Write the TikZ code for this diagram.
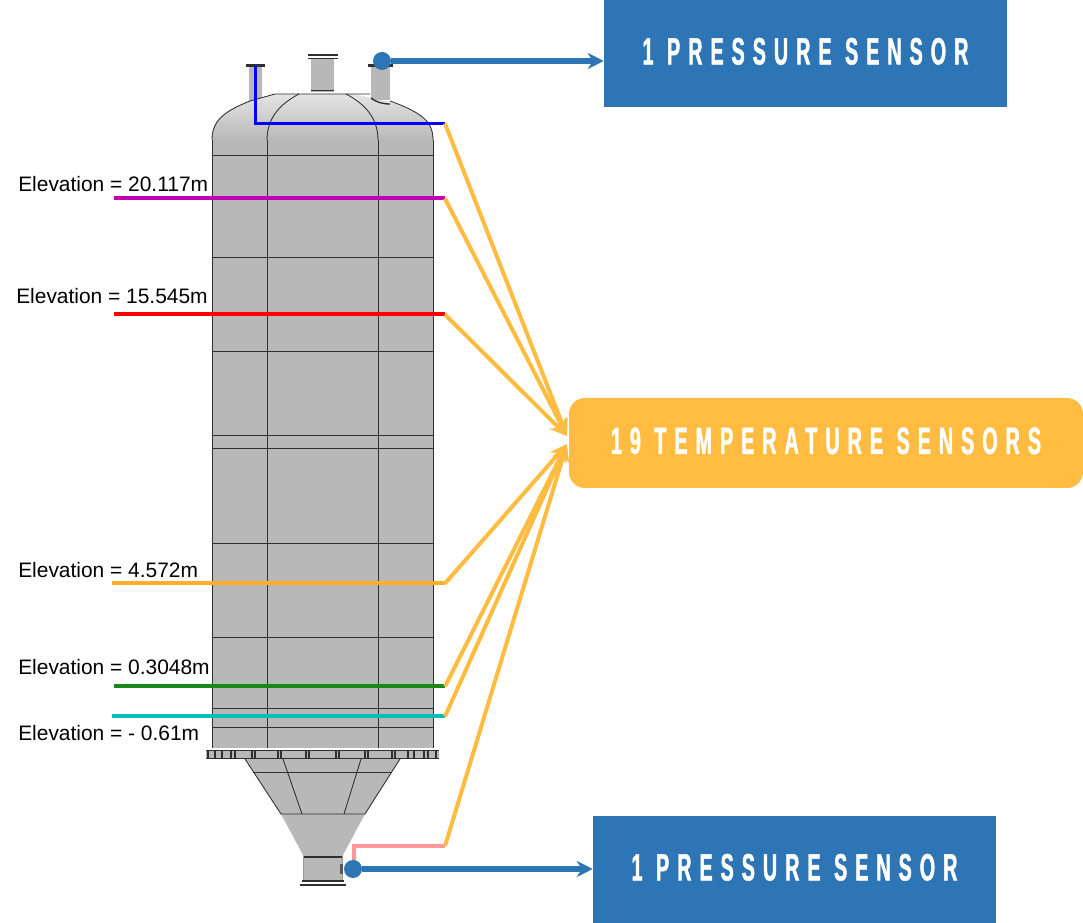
\documentclass[tikz,border=0pt]{standalone}
\usepackage{fontspec}
\setmainfont{Liberation Sans}
\newfontfamily\bannerfont[FakeStretch=0.52,LetterSpace=21,FakeBold=1.2]{Liberation Sans Bold}
\usetikzlibrary{arrows.meta,positioning}
\definecolor{steelblue}{HTML}{2E75B6}
\definecolor{amber}{HTML}{FFBC41}
\definecolor{vesselgrey}{HTML}{B8B8B8}
\definecolor{domegrey}{HTML}{E4E4E4}
\definecolor{edgegrey}{HTML}{2F2F2F}
\definecolor{tracepurple}{HTML}{C000B8}
\definecolor{tracegreen}{HTML}{178A17}
\definecolor{traceteal}{HTML}{08BDBA}
\definecolor{traceorange}{HTML}{FFAE2B}
\definecolor{tracepink}{HTML}{FF9797}

\begin{document}
\begin{tikzpicture}[
			x=0.75pt,y=-0.75pt,
			banner/.style={fill=steelblue,minimum width=302.25pt,minimum height=80.25pt,inner sep=0pt,text depth=3.5pt,align=center,text=white,font=\bannerfont\fontsize{28.5}{30}\selectfont},
			hub/.style={fill=amber,rounded corners=12pt,minimum width=385.5pt,minimum height=67.5pt,inner sep=0pt,text depth=3.5pt,align=center,text=white,font=\bannerfont\fontsize{28.5}{30}\selectfont},
			level/.style={line width=3pt},
			elev/.style={anchor=base west,inner sep=0pt,font=\fontsize{15.7}{17}\selectfont},
			feed/.style={amber,line width=3pt,-{Stealth[length=13pt,width=11pt,inset=4pt]}},
			press/.style={steelblue,line width=4pt,-{Stealth[length=12pt,width=12pt]}},
			tap/.style={circle,fill=steelblue,inner sep=0pt,minimum size=13.5pt},
			shell/.style={fill=vesselgrey,draw=none},
			seam/.style={edgegrey,line width=0.65pt}
			]
			\useasboundingbox (0,0) rectangle (1083,923);
			% nozzles on the top head
			\fill[vesselgrey] (249,66) rectangle (262,106);
			\fill[vesselgrey] (311,58) rectangle (334,92);
			\fill[vesselgrey] (371,66) rectangle (390,100);
			\draw[edgegrey,line width=1.8pt] (246,65.5) -- (265,65.5);
			\draw[edgegrey,line width=1.2pt] (307.5,55) -- (337.5,55);
			\draw[edgegrey,line width=1.2pt] (307.5,58.5) -- (337.5,58.5);
			\draw[seam] (311,90) -- (334,90);
			\draw[edgegrey,line width=1.8pt] (368,65.5) -- (393,65.5);
			% head and shell
			\shade[top color=domegrey,bottom color=vesselgrey] (212,140) .. controls (212,122) and (222,112) .. (250,101) -- (275,94) -- (354,94) -- (390,102) .. controls (423,113) and (433,122) .. (433,140) -- cycle;
			\draw[seam] (212,140) .. controls (212,122) and (222,112) .. (250,101) -- (275,94) -- (370,94);
			\draw[seam] (390,101) .. controls (423,113) and (433,122) .. (433,140);
			\fill[vesselgrey] (371,85) rectangle (390,100);
			\draw[edgegrey,line width=1pt] (371,98) .. controls (376,102) and (382,104) .. (390,104);
			\fill[shell] (212,140) rectangle (433,748);
			\draw[seam] (212,140) -- (212,748);
			\draw[seam] (433,140) -- (433,748);
			\draw[seam] (267,140) .. controls (267,118) and (280,104) .. (299,94);
			\draw[seam] (378,140) .. controls (378,118) and (365,104) .. (346,94);
			\draw[seam] (267,140) -- (267,748);
			\draw[seam] (378,140) -- (378,748);
			\foreach \yy in {155,257,351,435,448,543,637,708,727}
				\draw[seam] (212,\yy) -- (433,\yy);
			% skirt flange
			\fill[vesselgrey] (206,750) rectangle (439,758);
			\draw[seam] (206,750) -- (439,750);
			\draw[edgegrey,line width=1.2pt] (206,758.5) -- (439,758.5);
			\foreach \xx in {208,215,222,231,235,252,255,278,281,306,309,336,339,365,368,392,395,408,414,424,428,436}
				\draw[edgegrey,line width=1.1pt] (\xx,750) -- (\xx,758);
			% cone and outlet
			\filldraw[fill=vesselgrey,draw=none] (245,759) -- (400,759) -- (365,814) -- (343,855) -- (343,880) -- (303,880) -- (303,855) -- (281,814) -- cycle;
			\draw[seam] (245,759) -- (281,814) -- (365,814) -- (400,759);
			\draw[seam] (253,772) -- (392,772);
			\draw[seam] (283,759) -- (302,814);
			\draw[seam] (361,759) -- (344,814);
			\draw[edgegrey,line width=1.5pt] (303,856.5) -- (342,856.5);
			\draw[edgegrey!50,line width=0.6pt] (303,856) -- (303,880);
			\draw[edgegrey!50,line width=0.6pt] (342,856) -- (342,880);
			\draw[edgegrey,line width=1.2pt] (302,881) -- (344,881);
			\draw[edgegrey,line width=1.2pt] (300,885) -- (346,885);
			\fill[edgegrey!80] (340,864) rectangle (343,874);

			% sensor levels
			\coordinate (topin) at (255,66);
			\coordinate (topbend) at (255,123.5);
			\coordinate (topout) at (445,123.5);
			\coordinate (botin) at (354,868);
			\coordinate (botbend) at (354,846);
			\coordinate (botout) at (445,846);
			\coordinate (purplein) at (114,198.5);
			\coordinate (purpleout) at (445,198.5);
			\coordinate (redin) at (114,314.5);
			\coordinate (redout) at (445,314.5);
			\coordinate (orangein) at (112,583.5);
			\coordinate (orangeout) at (445,583.5);
			\coordinate (greenin) at (114,686.5);
			\coordinate (greenout) at (445,686.5);
			\coordinate (tealin) at (112,716.5);
			\coordinate (tealout) at (445,716.5);
			\draw[blue,line width=2.25pt] (topin) -- (topbend) -- (topout);
			\draw[tracepink,line width=3pt] (botin) -- (botbend) -- (botout);
			\draw[level,tracepurple] (purplein) -- (purpleout);
			\draw[level,red] (redin) -- (redout);
			\draw[level,traceorange] (orangein) -- (orangeout);
			\draw[level,tracegreen] (greenin) -- (greenout);
			\draw[level,traceteal] (tealin) -- (tealout);

			\node[elev] (elevpurple) at (18,192) {Elevation = 20.117m};
			\node[elev] (elevred) at (16,304) {Elevation = 15.545m};
			\node[elev] (elevorange) at (18,578) {Elevation = 4.572m};
			\node[elev] (elevgreen) at (18,675) {Elevation = 0.3048m};
			\node[elev] (elevteal) at (18,740) {Elevation = - 0.61m};

			% boxes
			\node[banner] (pressuretop) at (805.5,53.5) {1 PRESSURE SENSOR};
			\node[banner] (pressurebot) at (794.5,869.5) {1 PRESSURE SENSOR};
			\node[hub] (temps) at (826,443) {19 TEMPERATURE SENSORS};
			\coordinate (tipupper) at (567,436);
			\coordinate (tiplower) at (567,444);

			\draw[feed] (topout) -- (tipupper);
			\draw[feed] (purpleout) -- (tipupper);
			\draw[feed] (redout) -- (tipupper);
			\draw[feed] (orangeout) -- (tiplower);
			\draw[feed] (greenout) -- (tiplower);
			\draw[feed] (tealout) -- (tiplower);
			\draw[feed] (botout) -- (tiplower);

			\node[tap] (taptop) at (382,61) {};
			\node[tap] (tapbot) at (353,869) {};
			\draw[press] (taptop) -- (taptop -| pressuretop.west);
			\draw[press] (tapbot) -- (tapbot -| pressurebot.west);
		\end{tikzpicture}
\end{document}
